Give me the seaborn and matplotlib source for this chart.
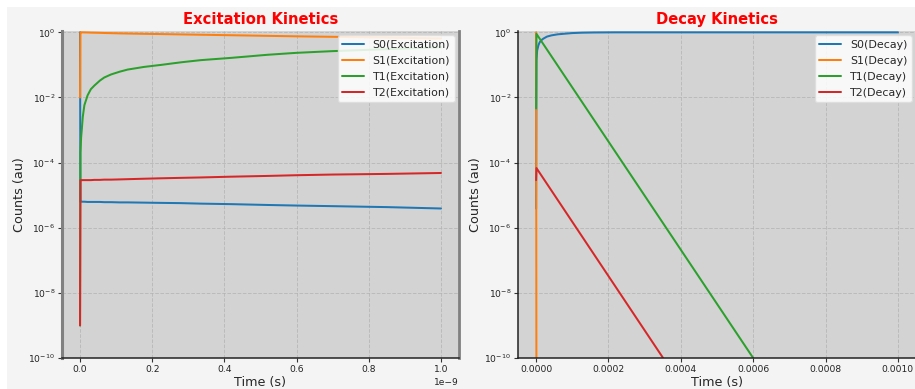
import numpy as np
import pandas as pd
import matplotlib
matplotlib.use("Agg")
import matplotlib.pyplot as plt
from matplotlib.patches import Rectangle
import seaborn as sns

# ---- Excitation run (time in seconds) ----
exc_time = [0, 1e-12, 3e-12, 4.7e-12, 7.5e-12, 1.2e-11, 2.1e-11, 3.0e-11, 4.0e-11,
            5.5e-11, 6.7e-11, 8.6e-11, 1.1e-10, 1.32e-10, 1.78e-10, 2.24e-10,
            2.79e-10, 3.34e-10, 4.2e-10, 5.2e-10, 6.0e-10, 7.0e-10, 8.5e-10, 1.0e-9]
exc_S0 = [1.0, 6.3e-6, 6.3e-6, 6.3e-6, 6.3e-6, 6.3e-6, 6.2e-6, 6.2e-6, 6.2e-6,
          6.2e-6, 6.1e-6, 6.1e-6, 6.0e-6, 6.0e-6, 5.9e-6, 5.8e-6,
          5.7e-6, 5.5e-6, 5.3e-6, 5.0e-6, 4.8e-6, 4.6e-6, 4.3e-6, 3.9e-6]
exc_S1 = [0.01, 1.0, 1.0, 0.999, 0.998, 0.995, 0.99, 0.98, 0.975,
          0.965, 0.955, 0.945, 0.93, 0.92, 0.90, 0.885,
          0.865, 0.845, 0.815, 0.78, 0.755, 0.73, 0.69, 0.65]
exc_T1 = [1e-9, 2e-4, 6e-4, 1e-3, 2.5e-3, 5.8e-3, 0.0117, 0.018, 0.0234,
          0.033, 0.041, 0.051, 0.062, 0.072, 0.087, 0.100,
          0.12, 0.14, 0.165, 0.205, 0.235, 0.265, 0.305, 0.35]
exc_T2 = [1e-9, 2.9e-5, 2.9e-5, 2.9e-5, 2.9e-5, 2.9e-5, 2.9e-5, 2.9e-5, 2.95e-5,
          2.95e-5, 3.0e-5, 3.0e-5, 3.05e-5, 3.1e-5, 3.2e-5, 3.3e-5,
          3.4e-5, 3.5e-5, 3.7e-5, 3.9e-5, 4.1e-5, 4.3e-5, 4.5e-5, 4.8e-5]

# ---- Decay run (time in seconds) ----
dec_S0_time = [0, 1e-6, 3e-6, 6.4e-6, 1.0e-5, 1.5e-5, 2.0e-5, 3.0e-5, 4.3e-5,
               6.0e-5, 8.0e-5, 1.0e-4, 1.26e-4, 1.6e-4, 2.18e-4, 3.0e-4, 1e-3]
dec_S0 = [3.9e-6, 0.14, 0.28, 0.40, 0.50, 0.58, 0.64, 0.74, 0.81,
          0.87, 0.91, 0.95, 0.975, 0.99, 1.0, 1.0, 1.0]
dec_S1_time = [0, 1e-6, 1e-3]
dec_S1 = [1.0, 1e-12, 1e-12]
dec_T1_time = [0, 1e-6, 6.0e-4]
dec_T1 = [4.6e-3, 0.9, 1.0e-10]
dec_T2_time = [0, 1e-6, 3.51e-4]
dec_T2 = [2.9e-5, 6.8e-5, 1.0e-10]

states = ["S0", "S1", "T1", "T2"]
palette = ["#1f77b4", "#ff7f0e", "#2ca02c", "#d62728"]


def long_frame(series, tag):
    rows = []
    for name, (t, v) in zip(states, series):
        for ti, vi in zip(t, v):
            rows.append({"time": ti, "counts": vi, "state": f"{name}({tag})"})
    return pd.DataFrame(rows)


exc_df = long_frame([(exc_time, exc_S0), (exc_time, exc_S1),
                     (exc_time, exc_T1), (exc_time, exc_T2)], "Excitation")
dec_df = long_frame([(dec_S0_time, dec_S0), (dec_S1_time, dec_S1),
                     (dec_T1_time, dec_T1), (dec_T2_time, dec_T2)], "Decay")

sns.set_theme(style="ticks")
plt.rcParams["font.family"] = ["DejaVu Sans"]

W, H = 915, 389
fig = plt.figure(figsize=(W / 100, H / 100), dpi=100, facecolor="white")
fig.patches.append(Rectangle((7 / W, 0), 1, (H - 7) / H, transform=fig.transFigure,
                             facecolor="#f4f4f4", edgecolor="none", zorder=-10))

ax1 = fig.add_axes([62 / W, 31 / H, 397 / W, 327 / H])
ax2 = fig.add_axes([518 / W, 31 / H, 398 / W, 327 / H])

for ax, df, title in [(ax1, exc_df, "Excitation Kinetics"), (ax2, dec_df, "Decay Kinetics")]:
    ax.set_facecolor("#d3d3d3")
    sns.lineplot(data=df, x="time", y="counts", hue="state", palette=palette,
                 sort=False, estimator=None, linewidth=1.45, ax=ax)
    ax.set_yscale("log")
    ax.set_ylim(1e-10, 1.1)
    ax.set_yticks([1e0, 1e-2, 1e-4, 1e-6, 1e-8, 1e-10])
    ax.yaxis.set_minor_locator(matplotlib.ticker.NullLocator())
    ax.grid(True, which="major", linestyle="--", color="#b4b4b4", linewidth=0.7, alpha=0.8)
    ax.set_axisbelow(True)
    ax.set_title(title, color="red", fontweight="bold", fontsize=10.6, pad=5)
    ax.set_xlabel("Time (s)", fontsize=9.2, labelpad=1.5)
    ax.set_ylabel("Counts (au)", fontsize=9.2, labelpad=1.5)
    ax.tick_params(axis="both", labelsize=6.6, length=3, width=0.8, color="#333333",
                   labelcolor="#222222", pad=2)
    handles, labels = ax.get_legend_handles_labels()
    ax.legend(handles, labels, loc="upper right", fontsize=7.9, frameon=True,
              facecolor="white", edgecolor="#dddddd", framealpha=0.85,
              handlelength=2.0, borderaxespad=0.4, labelspacing=0.55)
    ax.spines["top"].set_visible(False)
    ax.spines["bottom"].set_color("#222222")
    ax.spines["bottom"].set_linewidth(1.1)

ax1.spines["left"].set_color("#808080")
ax1.spines["left"].set_linewidth(2.2)
ax1.spines["right"].set_color("#808080")
ax1.spines["right"].set_linewidth(2.0)
ax2.spines["left"].set_color("#222222")
ax2.spines["left"].set_linewidth(1.1)
ax2.spines["right"].set_visible(False)

ax1.xaxis.get_offset_text().set_fontsize(6.6)

fig.savefig("out.png", dpi=100, facecolor=fig.get_facecolor())
